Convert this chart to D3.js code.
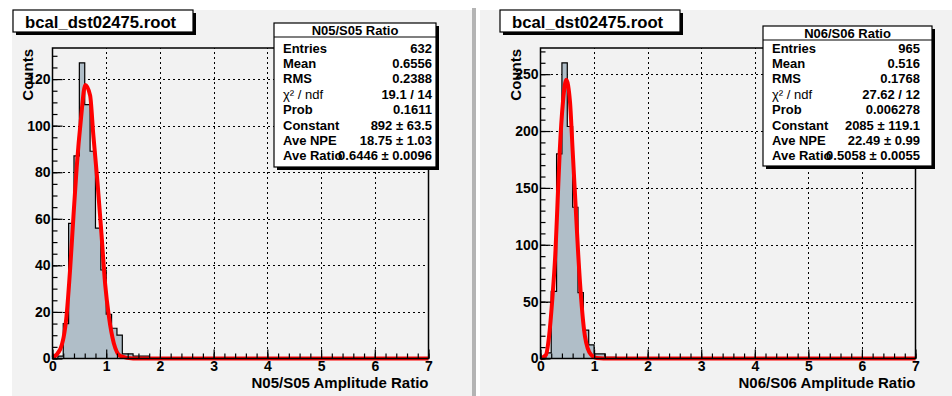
<!DOCTYPE html>
<html>
<head>
<meta charset="utf-8">
<script src="https://cdn.jsdelivr.net/npm/d3@7"></script>
<style>
body { margin: 0; background: #fff; }
text { font-family: "Liberation Sans", Helvetica, Arial, sans-serif; font-weight: bold; fill: #000; }
</style>
</head>
<body>
<svg id="chart" width="952" height="396"></svg>
<script>
// histogram bins, width 0.1, starting at 0 (bins past 2.0 are empty)
const binWidth = 0.1;
const leftCounts = [0, 1, 15, 58, 87, 127, 109, 89, 56, 38, 19, 13, 10, 2, 2, 1, 1, 1, 0, 0];
const rightCounts = [0, 5, 59, 180, 260, 204, 133, 58, 25, 12, 4, 4, 1, 1, 0, 0, 0, 0, 0, 0];

// fit curve
const leftFitX = [0, 0.14, 0.26, 0.33, 0.39, 0.45, 0.53, 0.61, 0.70, 0.76, 0.84, 0.91, 0.98, 1.05, 1.14, 1.27, 1.5, 7];
const leftFitY = [0.3, 3.8, 18, 39, 61, 82, 103, 117.5, 113, 96, 75, 54, 32, 18, 6.7, 1, 0, 0];
const rightFitX = [0, 0.1, 0.16, 0.22, 0.28, 0.32, 0.36, 0.42, 0.48, 0.55, 0.6, 0.65, 0.7, 0.76, 0.83, 0.94, 1.05, 1.3, 7];
const rightFitY = [0, 3, 19.5, 52, 95, 139, 183, 226, 245, 226, 183, 139, 95, 52, 19.5, 3.5, 0.5, 0, 0];

const xTicks = [0, 1, 2, 3, 4, 5, 6, 7];
const xMinor = d3.range(0, 7.001, 0.2);
const leftYTicks = [0, 20, 40, 60, 80, 100, 120];
const leftYMinor = d3.range(0, 131, 5);
const rightYTicks = [0, 50, 100, 150, 200, 250];
const rightYMinor = d3.range(0, 271, 10);

const fileName = "bcal_dst02475.root";
const leftTitle = "N05/S05 Ratio";
const rightTitle = "N06/S06 Ratio";
const leftXLabel = "N05/S05 Amplitude Ratio";
const rightXLabel = "N06/S06 Amplitude Ratio";
const statLabels = ["Entries", "Mean", "RMS", "χ² / ndf", "Prob", "Constant", "Ave NPE", "Ave Ratio"];
const leftStats = ["632", "0.6556", "0.2388", "19.1 / 14", "0.1611", "892 ± 63.5", "18.75 ± 1.03", "0.6446 ± 0.0096"];
const rightStats = ["965", "0.516", "0.1768", "27.62 / 12", "0.006278", "2085 ± 119.1", "22.49 ± 0.99", "0.5058 ± 0.0055"];

const svg = d3.select("#chart");
const frameTop = 48, frameBottom = 358.5;
const histFill = "#b0bec8";

function drawPanel(p) {
    // pad background
    svg.append("rect").attr("x", p.bgX).attr("y", 10).attr("width", p.bgW).attr("height", 386).attr("fill", "#f2f2f2");
    if (p.border) {
        svg.append("rect").attr("x", p.bgX + p.bgW).attr("y", 8).attr("width", 4).attr("height", 388).attr("fill", "#b4b4b4");
    }

    const x = d3.scaleLinear().domain([0, 7]).range([p.frameL, p.frameR]);
    const y = d3.scaleLinear().domain([0, d3.max(p.counts) * 1.05]).range([frameBottom, frameTop]);

    const g = svg.append("g");

    // dotted grid
    g.selectAll(".vg").data(xTicks.slice(1, -1)).join("line")
        .attr("x1", d => Math.round(x(d)) + 0.5).attr("x2", d => Math.round(x(d)) + 0.5)
        .attr("y1", frameBottom).attr("y2", frameTop)
        .attr("stroke", "#000").attr("stroke-dasharray", "2,3").attr("shape-rendering", "crispEdges");
    g.selectAll(".hg").data(p.yTicks.slice(1)).join("line")
        .attr("x1", p.frameL).attr("x2", p.frameR)
        .attr("y1", d => Math.round(y(d)) + 0.5).attr("y2", d => Math.round(y(d)) + 0.5)
        .attr("stroke", "#000").attr("stroke-dasharray", "2,3").attr("shape-rendering", "crispEdges");

    // histogram
    const bins = p.counts.map((c, i) => ({ x: i * binWidth, c: c }));
    bins.push({ x: 7, c: 0 });
    g.append("path").datum(bins)
        .attr("fill", histFill)
        .attr("d", d3.area().curve(d3.curveStepAfter).x(d => x(d.x)).y0(y(0)).y1(d => y(d.c)));
    g.append("path").datum(bins)
        .attr("fill", "none").attr("stroke", "#000").attr("stroke-width", 1.2)
        .attr("d", d3.line().curve(d3.curveStepAfter).x(d => x(d.x)).y(d => y(d.c)));

    // fit
    const fit = p.fitX.map((v, i) => [v, p.fitY[i]]);
    g.append("path").datum(fit)
        .attr("fill", "none").attr("stroke", "#ff0000").attr("stroke-width", 4)
        .attr("stroke-linejoin", "round")
        .attr("d", d3.line().curve(d3.curveMonotoneX).x(d => x(d[0])).y(d => y(d[1])));

    // axes
    const xa = g.append("g").attr("transform", `translate(0,${frameBottom})`)
        .call(d3.axisBottom(x).tickValues(xTicks).tickSize(-9).tickPadding(3).tickFormat(d3.format("d")));
    xa.select(".domain").remove();
    xa.selectAll("text").style("font-size", "14px");
    const xm = g.append("g").attr("transform", `translate(0,${frameBottom})`)
        .call(d3.axisBottom(x).tickValues(xMinor).tickSize(-5).tickFormat(""));
    xm.select(".domain").remove();

    const ya = g.append("g").attr("transform", `translate(${p.frameL},0)`)
        .call(d3.axisLeft(y).tickValues(p.yTicks).tickSize(-10).tickPadding(2).tickFormat(d3.format("d")));
    ya.select(".domain").remove();
    ya.selectAll("text").style("font-size", "14px");
    const ym = g.append("g").attr("transform", `translate(${p.frameL},0)`)
        .call(d3.axisLeft(y).tickValues(p.yMinor).tickSize(-5).tickFormat(""));
    ym.select(".domain").remove();
    g.selectAll(".tick line").attr("stroke-width", 1.2);

    g.append("rect").attr("x", p.frameL).attr("y", frameTop)
        .attr("width", p.frameR - p.frameL).attr("height", frameBottom - frameTop)
        .attr("fill", "none").attr("stroke", "#000").attr("stroke-width", 1.5);

    // axis titles
    g.append("text").attr("x", p.frameR).attr("y", 388).attr("text-anchor", "end")
        .style("font-size", "15px").text(p.xLabel);
    g.append("text").attr("transform", `translate(${p.frameL - 20},${frameTop + 1}) rotate(-90)`)
        .attr("text-anchor", "end").style("font-size", "15px").text("Counts");

    // file title box
    svg.append("rect").attr("x", p.titleX + 3).attr("y", 13).attr("width", 180).attr("height", 22).attr("fill", "#000");
    svg.append("rect").attr("x", p.titleX).attr("y", 10).attr("width", 180).attr("height", 22)
        .attr("fill", "#fff").attr("stroke", "#000").attr("stroke-width", 1.2);
    svg.append("text").attr("x", p.titleX + 12).attr("y", 27.5).style("font-size", "16.7px").text(fileName);

    // stats box
    const s = svg.append("g");
    s.append("rect").attr("x", p.statX + 3).attr("y", p.statY + 3).attr("width", p.statW).attr("height", p.statH).attr("fill", "#000");
    s.append("rect").attr("x", p.statX).attr("y", p.statY).attr("width", p.statW).attr("height", p.statH)
        .attr("fill", "#fff").attr("stroke", "#000").attr("stroke-width", 1.2);
    s.append("line").attr("x1", p.statX).attr("x2", p.statX + p.statW)
        .attr("y1", p.statY + 14).attr("y2", p.statY + 14).attr("stroke", "#000").attr("stroke-width", 1.2);
    s.append("text").attr("x", p.statX + p.statW / 2).attr("y", p.statY + 12).attr("text-anchor", "middle")
        .style("font-size", "13px").text(p.title);
    statLabels.forEach((lab, i) => {
        const yy = 52.5 + i * 15.4;
        const t = s.append("text").attr("x", p.statX + 9).attr("y", yy).style("font-size", "13px").text(lab);
        if (i === 3) t.style("font-weight", "normal");
        s.append("text").attr("x", p.statX + p.statW - p.valPad).attr("y", yy).attr("text-anchor", "end")
            .style("font-size", "13px").text(p.stats[i]);
    });
}

drawPanel({
    bgX: 12, bgW: 460, border: true, frameL: 52.5, frameR: 428.5,
    titleX: 13, statX: 274, statY: 23, statW: 162, statH: 144, valPad: 4,
    counts: leftCounts, fitX: leftFitX, fitY: leftFitY, yTicks: leftYTicks, yMinor: leftYMinor,
    title: leftTitle, xLabel: leftXLabel, stats: leftStats
});
drawPanel({
    bgX: 480, bgW: 472, border: false, frameL: 540.5, frameR: 915.5,
    titleX: 500, statX: 763, statY: 26, statW: 169, statH: 140, valPad: 12,
    counts: rightCounts, fitX: rightFitX, fitY: rightFitY, yTicks: rightYTicks, yMinor: rightYMinor,
    title: rightTitle, xLabel: rightXLabel, stats: rightStats
});
</script>
</body>
</html>
